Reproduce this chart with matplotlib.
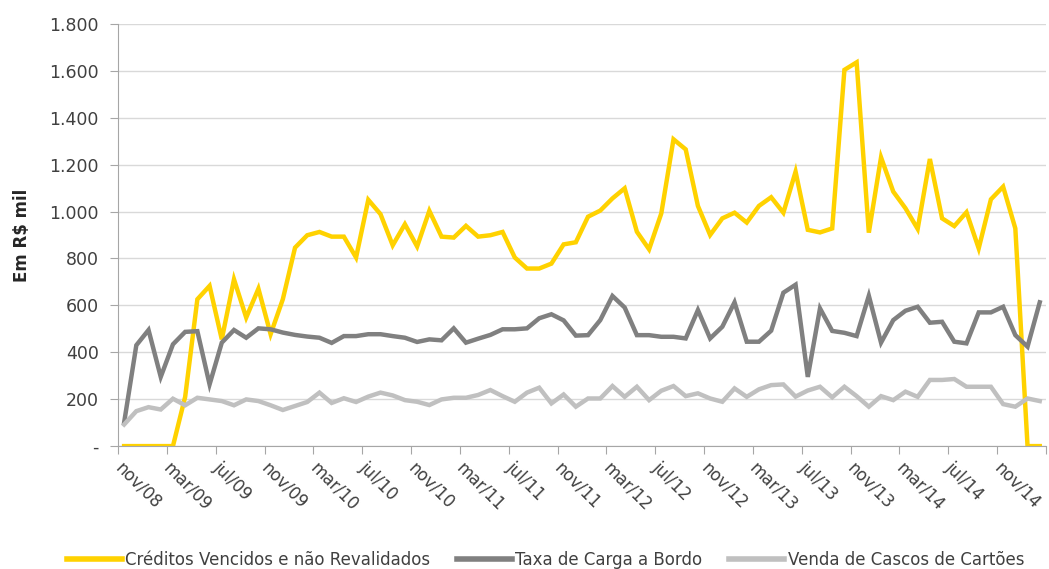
import matplotlib
matplotlib.use('Agg')
import matplotlib.pyplot as plt
from matplotlib.ticker import FuncFormatter, FixedLocator

# meses nov/08 .. fev/15 (76 meses)
meses_pt = ['jan', 'fev', 'mar', 'abr', 'mai', 'jun', 'jul', 'ago', 'set', 'out', 'nov', 'dez']
rotulos = []
for k in range(76):
    m = (10 + k) % 12
    a = 8 + (10 + k) // 12
    rotulos.append(f'{meses_pt[m]}/{a:02d}')

creditos = [0, 0, 0, 0, 0, 210, 626, 683, 455, 711, 548, 671, 477, 626, 846, 899,
            913, 893, 893, 804, 1050, 989, 856, 946, 851, 1003, 893, 889, 939, 893,
            899, 913, 804, 757, 757, 778, 860, 869, 978, 1004, 1056, 1099, 914, 839,
            992, 1308, 1265, 1024, 900, 971, 995, 953, 1024, 1061, 995, 1170, 922,
            911, 928, 1604, 1636, 910, 1231, 1085, 1014, 926, 1224, 971, 938, 997,
            843, 1052, 1106, 928, 0, 0]

taxa_carga = [100, 430, 495, 295, 434, 487, 490, 263, 441, 495, 462, 502, 498, 484,
              474, 467, 462, 440, 469, 469, 477, 477, 469, 462, 444, 455, 451, 502,
              441, 458, 474, 498, 498, 502, 545, 562, 536, 471, 473, 537, 640, 591,
              473, 473, 466, 466, 459, 580, 459, 509, 613, 445, 445, 492, 654, 688,
              295, 587, 491, 483, 469, 641, 441, 537, 577, 594, 526, 530, 445, 438,
              570, 570, 594, 473, 424, 613]

venda_cascos = [92, 149, 166, 156, 202, 174, 206, 199, 192, 174, 199, 192, 174, 154,
                171, 188, 228, 184, 204, 188, 211, 228, 216, 196, 189, 175, 199, 206,
                206, 218, 239, 213, 189, 228, 249, 182, 220, 168, 203, 203, 256, 210,
                253, 196, 236, 256, 213, 225, 203, 189, 246, 210, 242, 260, 263, 211,
                237, 253, 208, 253, 213, 168, 213, 196, 232, 210, 282, 282, 286, 253,
                253, 253, 179, 168, 203, 192]

nomes = ['Créditos Vencidos e não Revalidados', 'Taxa de Carga a Bordo',
         'Venda de Cascos de Cartões']
cores = ['#FFD200', '#808080', '#C0C0C0']
cor_texto = '#404040'

plt.rcParams['font.family'] = ['DejaVu Sans']

fig = plt.figure(figsize=(10.49, 5.69), dpi=100)
ax = fig.add_axes([0.1125, 0.216, 0.8845, 0.742])

x = list(range(len(rotulos)))
for serie, nome, cor in zip([creditos, taxa_carga, venda_cascos], nomes, cores):
    ax.plot(x, serie, color=cor, lw=3.2, label=nome, solid_joinstyle='miter')

ax.set_xlim(-0.5, len(rotulos) - 0.5)
ax.set_ylim(0, 1800)
ax.set_yticks(range(0, 1801, 200))
ax.yaxis.set_major_formatter(FuncFormatter(
    lambda v, p: '-' if v == 0 else f'{int(v):,}'.replace(',', '.')))
ax.grid(axis='y', color='#D9D9D9', lw=1)
ax.set_axisbelow(True)

# ticks nas fronteiras a cada 4 meses, rótulos no centro da categoria
ax.xaxis.set_major_locator(FixedLocator([i - 0.5 for i in range(0, 77, 4)]))
ax.xaxis.set_major_formatter(FuncFormatter(lambda v, p: ''))
ax.xaxis.set_minor_locator(FixedLocator(list(range(0, 76, 4))))
ax.set_xticklabels([rotulos[i] for i in range(0, 76, 4)], minor=True)
ax.tick_params(axis='x', which='major', length=6, color='#A6A6A6', direction='out')
ax.tick_params(axis='x', which='minor', length=0, pad=9, labelsize=12,
               labelcolor=cor_texto)
for lbl in ax.get_xticklabels(minor=True):
    lbl.set_rotation(-45)
    lbl.set_ha('left')
    lbl.set_va('top')
    lbl.set_rotation_mode('anchor')

ax.tick_params(axis='y', length=6, color='#A6A6A6', labelsize=12.5, pad=8,
               labelcolor=cor_texto)
for s in ['top', 'right']:
    ax.spines[s].set_visible(False)
for s in ['left', 'bottom']:
    ax.spines[s].set_color('#A6A6A6')

ax.set_ylabel(r'Em R\$ mil', fontsize=12, fontweight='bold', color='#262626')
ax.yaxis.set_label_coords(-0.094, 0.5)

leg = fig.legend(loc='center', bbox_to_anchor=(0.52, 0.016), ncol=3, frameon=False,
                 fontsize=12, handlelength=3.3, columnspacing=1.6, handletextpad=0.2)
for t in leg.get_texts():
    t.set_color(cor_texto)
for h in leg.get_lines():
    h.set_linewidth(4)

fig.savefig('out.png', dpi=100)
